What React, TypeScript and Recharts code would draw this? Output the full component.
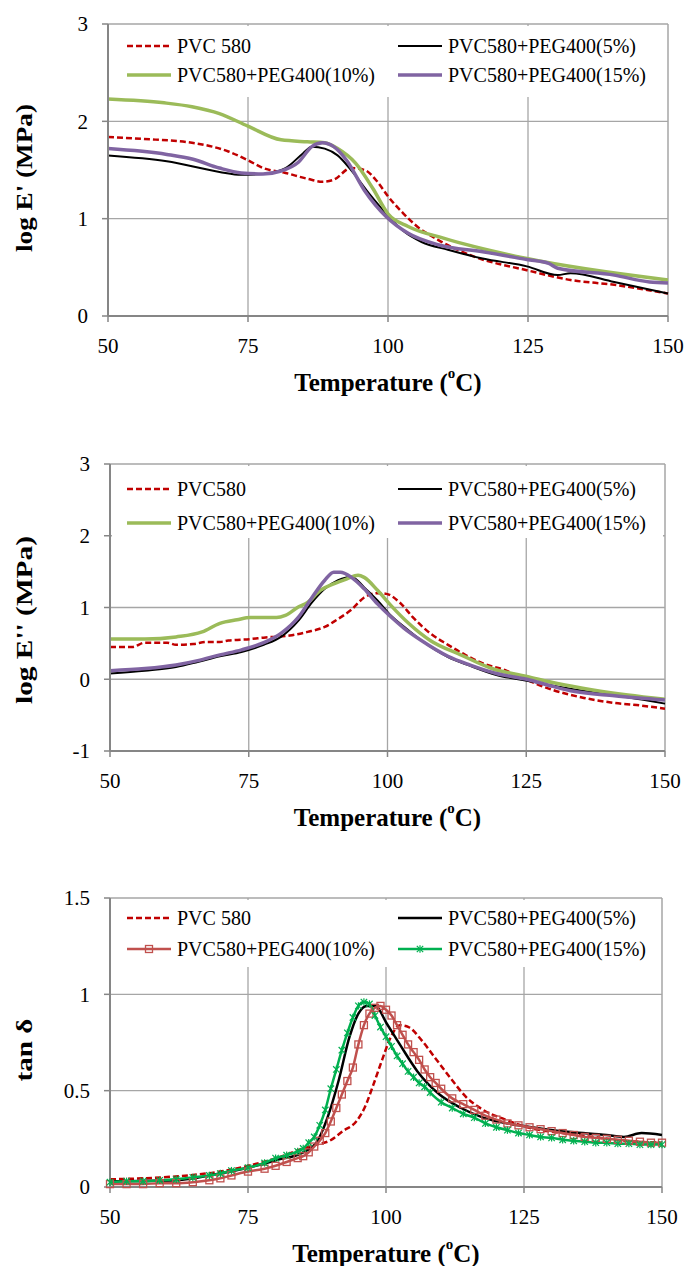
import React from 'react';
import { LineChart, Line, XAxis, YAxis, CartesianGrid } from 'recharts';

const W = 688;
const FONT = '"Times New Roman", Times, "Liberation Serif", "DejaVu Serif", serif';
const AXIS = '#868686';

// x ticks
const majorTemps = [50, 75, 100, 125, 150];
const minorTemps = [55, 60, 65, 70, 80, 85, 90, 95, 105, 110, 115, 120, 130, 135, 140, 145, 150];

// y ticks
const storageTicks = [0, 1, 2, 3];
const lossTicks = [-1, 0, 1, 2, 3];
const tanTicks = [0, 0.5, 1, 1.5];

const namesA = ['PVC 580', 'PVC580+PEG400(5%)', 'PVC580+PEG400(10%)', 'PVC580+PEG400(15%)'];
const namesB = ['PVC580', 'PVC580+PEG400(5%)', 'PVC580+PEG400(10%)', 'PVC580+PEG400(15%)'];

// log E' (MPa) vs temperature
const storagePvc = [[50, 1.84], [56, 1.82], [65, 1.78], [71.5, 1.69], [75, 1.6], [77.7, 1.52], [81.7, 1.47], [85.6, 1.41], [88.3, 1.38], [90.3, 1.4], [93.4, 1.52], [95.8, 1.5], [98.1, 1.38], [100, 1.23], [102.8, 1.05], [105.2, 0.92], [109, 0.78], [115.4, 0.61], [124.8, 0.47], [132.6, 0.37], [140.4, 0.32], [150, 0.23]];
const storage5 = [[50, 1.65], [60.5, 1.59], [69.9, 1.48], [73.8, 1.45], [77.7, 1.46], [81.7, 1.52], [84.8, 1.67], [86.4, 1.74], [88.7, 1.72], [91, 1.65], [93.4, 1.5], [96.6, 1.26], [99.7, 1.05], [102.8, 0.87], [106, 0.76], [110.7, 0.68], [116.9, 0.59], [124.8, 0.51], [130.3, 0.42], [132.6, 0.44], [140.4, 0.35], [150, 0.23]];
const storage10 = [[50, 2.23], [60, 2.19], [65, 2.15], [69.9, 2.08], [75, 1.95], [80.9, 1.81], [85.6, 1.79], [88.7, 1.78], [91, 1.72], [94.2, 1.57], [97.3, 1.31], [100, 1.05], [103.6, 0.92], [109.9, 0.8], [124.8, 0.59], [150, 0.37]];
const storage15 = [[50, 1.72], [60.5, 1.66], [65.2, 1.61], [69.9, 1.52], [73.8, 1.47], [77.7, 1.46], [80.9, 1.49], [84, 1.58], [86.4, 1.74], [88.3, 1.78], [90.3, 1.74], [92.6, 1.6], [95.8, 1.29], [99.7, 1.02], [103.6, 0.85], [109.1, 0.73], [116.9, 0.66], [124.8, 0.58], [128.7, 0.54], [130.3, 0.49], [140.4, 0.42], [146.7, 0.35], [150, 0.34]];

// log E'' (MPa) vs temperature
const lossPvc = [[50, 0.45], [54, 0.45], [56.3, 0.51], [60.3, 0.51], [61.9, 0.48], [65, 0.49], [67.4, 0.52], [69.8, 0.52], [71.3, 0.54], [75.3, 0.56], [77.7, 0.58], [82.4, 0.61], [85.6, 0.66], [88.7, 0.73], [91.1, 0.84], [93.5, 0.97], [95.8, 1.14], [98.2, 1.2], [99.8, 1.19], [102.2, 1.07], [104.5, 0.87], [107.7, 0.64], [110.9, 0.48], [114, 0.34], [117.2, 0.22], [121.1, 0.13], [125.1, -0.01], [129.8, -0.15], [135.4, -0.26], [140.9, -0.33], [144.9, -0.36], [150, -0.41]];
const loss5 = [[50, 0.08], [56.3, 0.12], [61.9, 0.17], [65.8, 0.24], [69.8, 0.32], [73.7, 0.38], [77.7, 0.48], [80.8, 0.59], [84, 0.82], [86.4, 1.07], [88.7, 1.26], [91.1, 1.38], [93.5, 1.43], [95.8, 1.28], [98.2, 1.1], [100.6, 0.89], [103, 0.73], [106.1, 0.54], [110.9, 0.31], [114.8, 0.19], [119.6, 0.06], [125.1, -0.02], [130.6, -0.1], [137, -0.18], [143.3, -0.25], [150, -0.34]];
const loss10 = [[50, 0.56], [56.3, 0.56], [61.9, 0.59], [66.6, 0.66], [69.8, 0.78], [72.9, 0.83], [75.3, 0.86], [80, 0.86], [81.6, 0.89], [84, 1.01], [85.6, 1.07], [87.9, 1.24], [90.3, 1.33], [92.7, 1.4], [94.7, 1.45], [95.8, 1.42], [98.2, 1.24], [100.6, 1.03], [103.8, 0.78], [107.7, 0.54], [113.2, 0.34], [118.8, 0.15], [125.1, 0.04], [130.6, -0.06], [137, -0.15], [143.3, -0.22], [150, -0.28]];
const loss15 = [[50, 0.12], [56.3, 0.15], [61.9, 0.2], [65.8, 0.26], [69.8, 0.34], [73.7, 0.41], [77.7, 0.51], [80.8, 0.64], [84, 0.87], [86.4, 1.14], [88.7, 1.38], [90.3, 1.49], [91.5, 1.49], [93.5, 1.42], [95.8, 1.26], [98.2, 1.05], [100.6, 0.87], [103, 0.71], [106.1, 0.54], [110.9, 0.32], [114.8, 0.2], [119.6, 0.08], [125.1, 0], [129.8, -0.1], [133, -0.16], [140.9, -0.23], [150, -0.29]];

// tan delta vs temperature
const tanPvc = [[50, 0.04], [61.9, 0.055], [69.9, 0.08], [75, 0.11], [80.2, 0.15], [85, 0.2], [87.4, 0.22], [89.8, 0.24], [92.2, 0.29], [94.6, 0.34], [96.1, 0.41], [97.7, 0.53], [99.3, 0.66], [100.9, 0.78], [102.5, 0.84], [104.1, 0.83], [106.5, 0.76], [108.9, 0.67], [112.1, 0.55], [114.4, 0.47], [117.6, 0.4], [121.6, 0.35], [125.6, 0.31], [131.9, 0.28], [137.5, 0.26], [143.1, 0.24], [150, 0.23]];
const tan5 = [[50, 0.03], [61.9, 0.035], [69.9, 0.07], [75, 0.1], [80.2, 0.14], [85, 0.18], [87.4, 0.23], [89.4, 0.36], [91.4, 0.55], [93.4, 0.78], [95, 0.9], [96.5, 0.94], [98.1, 0.94], [100.1, 0.85], [102.5, 0.74], [105.7, 0.6], [109.7, 0.48], [113.6, 0.41], [117.6, 0.36], [124, 0.32], [128.8, 0.3], [133.5, 0.285], [139.9, 0.27], [143.1, 0.26], [146.3, 0.28], [150, 0.27]];
const tan10 = [[50, 0.015], [53, 0.015], [56, 0.015], [59, 0.02], [62, 0.02], [65, 0.025], [68, 0.035], [70, 0.045], [72, 0.06], [75, 0.08], [78, 0.095], [80, 0.11], [82, 0.13], [84, 0.15], [85, 0.16], [86, 0.18], [87, 0.21], [88, 0.24], [89, 0.28], [90, 0.34], [91, 0.41], [92, 0.48], [93, 0.55], [94, 0.62], [95, 0.74], [96, 0.84], [97, 0.9], [98, 0.93], [99, 0.94], [100, 0.92], [101, 0.89], [102, 0.84], [103, 0.79], [104, 0.74], [105, 0.7], [106, 0.66], [107, 0.61], [108, 0.57], [109, 0.54], [110, 0.51], [112, 0.46], [114, 0.43], [116, 0.4], [118, 0.37], [120, 0.35], [122, 0.33], [124, 0.32], [126, 0.31], [128, 0.3], [130, 0.29], [132, 0.28], [134, 0.27], [136, 0.26], [138, 0.255], [140, 0.25], [142, 0.245], [144, 0.24], [146, 0.235], [148, 0.23], [150, 0.23]];
const tan15 = [[50, 0.025], [53, 0.03], [56, 0.03], [59, 0.035], [62, 0.04], [65, 0.05], [68, 0.06], [70, 0.07], [72, 0.085], [75, 0.1], [78, 0.125], [80, 0.15], [82, 0.165], [84, 0.185], [85, 0.2], [86, 0.23], [87, 0.26], [88, 0.32], [89, 0.4], [90, 0.51], [91, 0.61], [92, 0.71], [93, 0.8], [94, 0.88], [95, 0.94], [96, 0.96], [97, 0.95], [98, 0.89], [99, 0.83], [100, 0.78], [101, 0.73], [102, 0.68], [103, 0.64], [104, 0.6], [105, 0.57], [106, 0.54], [107, 0.52], [108, 0.49], [110, 0.44], [112, 0.41], [114, 0.38], [116, 0.36], [118, 0.33], [120, 0.31], [122, 0.295], [124, 0.28], [126, 0.27], [128, 0.26], [130, 0.255], [132, 0.245], [134, 0.24], [136, 0.235], [138, 0.23], [140, 0.23], [142, 0.225], [144, 0.225], [146, 0.22], [148, 0.22], [150, 0.22]];

const toRows = (pts: number[][]) => pts.map(([t, v]) => ({ t, v }));

type Marker = 'square' | 'star';
interface SeriesDef { name: string; rows: { t: number; v: number }[]; color: string; width: number; dash?: string; marker?: Marker; }

const SquareDot = ({ cx, cy, color }: any) =>
  cx == null || cy == null ? null : (
    <rect x={cx - 3.5} y={cy - 3.5} width={7} height={7} fill="none" stroke={color} strokeWidth={1.3} />
  );

const StarDot = ({ cx, cy, color }: any) => {
  if (cx == null || cy == null) return null;
  const r = 3.2;
  return (
    <g stroke={color} strokeWidth={1.2}>
      <line x1={cx - r} y1={cy - r} x2={cx + r} y2={cy + r} />
      <line x1={cx - r} y1={cy + r} x2={cx + r} y2={cy - r} />
      <line x1={cx} y1={cy - r - 0.5} x2={cx} y2={cy + r + 0.5} />
    </g>
  );
};

const renderMarker = (m: Marker | undefined, color: string) => {
  if (!m) return false;
  return (p: any) =>
    m === 'square'
      ? <SquareDot key={`d${p.index}`} cx={p.cx} cy={p.cy} color={color} />
      : <StarDot key={`d${p.index}`} cx={p.cx} cy={p.cy} color={color} />;
};

const XTitle = ({ cx, cy }: any) => (
  <text x={cx} y={cy} textAnchor="middle" dominantBaseline="central" style={{ fontFamily: FONT }} fontWeight="bold" fontSize={25} fill="#000">
    Temperature (<tspan dy={-9} fontSize={15}>o</tspan><tspan dy={9}>C)</tspan>
  </text>
);

const YTitle = ({ cx, cy, text, len }: any) => (
  <text x={cx} y={cy} transform={`rotate(-90 ${cx} ${cy})`} textAnchor="middle" dominantBaseline="central"
    style={{ fontFamily: FONT }} fontWeight="bold" fontSize={23} fill="#000" textLength={len} lengthAdjust="spacingAndGlyphs">
    {text}
  </text>
);

interface PanelCfg {
  top: number; height: number;
  plot: { left: number; top: number; right: number; bottom: number };
  yDomain: [number, number]; yTicks: number[];
  yTitle: string; yTitleY: number; yTitleLen: number;
  legendRows: [number, number]; legendBottom: number;
  series: SeriesDef[];
}

const panels: PanelCfg[] = [
  {
    top: 0, height: 420, plot: { left: 108, top: 24, right: 668, bottom: 316 },
    yDomain: [0, 3], yTicks: storageTicks, yTitle: "log E' (MPa)", yTitleY: 178, yTitleLen: 148,
    legendRows: [46, 75], legendBottom: 97,
    series: [
      { name: namesA[0], rows: toRows(storagePvc), color: '#C00000', width: 2.5, dash: '6 3' },
      { name: namesA[1], rows: toRows(storage5), color: '#000000', width: 2 },
      { name: namesA[2], rows: toRows(storage10), color: '#9BBB59', width: 3.5 },
      { name: namesA[3], rows: toRows(storage15), color: '#8064A2', width: 3.5 },
    ],
  },
  {
    top: 420, height: 420, plot: { left: 110, top: 44, right: 665, bottom: 331 },
    yDomain: [-1, 3], yTicks: lossTicks, yTitle: "log E'' (MPa)", yTitleY: 200, yTitleLen: 168,
    legendRows: [69, 103], legendBottom: 118,
    series: [
      { name: namesB[0], rows: toRows(lossPvc), color: '#C00000', width: 2.5, dash: '6 3' },
      { name: namesB[1], rows: toRows(loss5), color: '#000000', width: 2 },
      { name: namesB[2], rows: toRows(loss10), color: '#9BBB59', width: 3.5 },
      { name: namesB[3], rows: toRows(loss15), color: '#8064A2', width: 3.5 },
    ],
  },
  {
    top: 850, height: 416, plot: { left: 110, top: 48, right: 662, bottom: 337 },
    yDomain: [0, 1.5], yTicks: tanTicks, yTitle: 'tan δ', yTitleY: 200, yTitleLen: 63,
    legendRows: [68, 99], legendBottom: 117,
    series: [
      { name: namesA[0], rows: toRows(tanPvc), color: '#C00000', width: 2.5, dash: '6 3' },
      { name: namesA[1], rows: toRows(tan5), color: '#000000', width: 2.5 },
      { name: namesA[2], rows: toRows(tan10), color: '#C0504D', width: 2.5, marker: 'square' },
      { name: namesA[3], rows: toRows(tan15), color: '#00B050', width: 2.5, marker: 'star' },
    ],
  },
];

const Panel = ({ cfg }: { cfg: PanelCfg }) => {
  const { plot } = cfg;
  const midX = (plot.left + plot.right) / 2;
  const tickStyle = { fill: '#000', fontSize: 21, style: { fontFamily: FONT } };
  return (
    <div style={{ position: 'absolute', left: 0, top: cfg.top, width: W, height: cfg.height, fontFamily: FONT }}>
      <LineChart width={W} height={cfg.height} margin={{ top: plot.top, right: W - plot.right, bottom: 0, left: 0 }}>
        <XAxis xAxisId="minor" type="number" dataKey="t" domain={[50, 150]} ticks={minorTemps} hide />
        <CartesianGrid xAxisId="minor" horizontal={false} stroke="#d9d9d9" strokeWidth={1.3} />
        <CartesianGrid stroke="#a6a6a6" strokeWidth={1.3} />
        <XAxis
          type="number" dataKey="t" domain={[50, 150]} ticks={majorTemps} height={cfg.height - plot.bottom}
          tick={tickStyle} tickSize={6} tickMargin={16}
          axisLine={{ stroke: AXIS, strokeWidth: 2 }} tickLine={{ stroke: AXIS, strokeWidth: 1.5 }}
          label={<XTitle cx={midX} cy={plot.bottom + 66} />}
        />
        <YAxis
          type="number" domain={cfg.yDomain} ticks={cfg.yTicks} width={plot.left}
          tick={tickStyle} tickSize={6} tickMargin={14}
          axisLine={{ stroke: AXIS, strokeWidth: 2 }} tickLine={{ stroke: AXIS, strokeWidth: 1.5 }}
          label={<YTitle cx={24} cy={cfg.yTitleY} text={cfg.yTitle} len={cfg.yTitleLen} />}
        />
        {cfg.series.map((s) => (
          <Line
            key={s.name}
            data={s.rows}
            dataKey="v"
            name={s.name}
            type="monotone"
            stroke={s.color}
            strokeWidth={s.width}
            strokeDasharray={s.dash}
            dot={renderMarker(s.marker, s.color)}
            activeDot={false}
            isAnimationActive={false}
          />
        ))}
      </LineChart>
      <svg width={W} height={cfg.height} style={{ position: 'absolute', left: 0, top: 0, pointerEvents: 'none' }}>
        <rect x={plot.left + 2} y={plot.top + 2} width={plot.right - plot.left - 4} height={cfg.legendBottom - plot.top - 2} fill="#fff" />
        {cfg.series.map((s, i) => {
          const col = i % 2;
          const y = cfg.legendRows[Math.floor(i / 2)];
          const x1 = col ? 398 : 127;
          const x2 = x1 + 44;
          const mx = (x1 + x2) / 2;
          return (
            <g key={s.name}>
              <line x1={x1} y1={y} x2={x2} y2={y} stroke={s.color} strokeWidth={s.width} strokeDasharray={s.dash} />
              {s.marker === 'square' && <SquareDot cx={mx} cy={y} color={s.color} />}
              {s.marker === 'star' && <StarDot cx={mx} cy={y} color={s.color} />}
              <text x={x2 + 6} y={y} dominantBaseline="central" style={{ fontFamily: FONT }} fontSize={20} fill="#000">{s.name}</text>
            </g>
          );
        })}
      </svg>
    </div>
  );
};

export default function App() {
  return (
    <div style={{ position: 'absolute', left: 0, top: 0, width: W, height: 1266, background: '#fff' }}>
      {panels.map((p, i) => <Panel key={i} cfg={p} />)}
    </div>
  );
}
